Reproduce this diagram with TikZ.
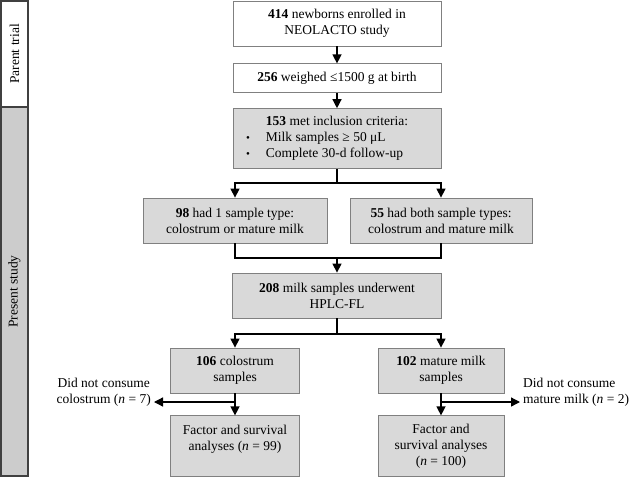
\documentclass[tikz,border=0pt]{standalone}
\usepackage{fontspec}
\setmainfont{Liberation Serif}
\usetikzlibrary{positioning, arrows.meta}

\tikzset{
    box/.style={draw=black!50, line width=0.8pt, align=center, inner sep=2pt, minimum height=45pt, font=\fontsize{13.5}{16}\selectfont},
    graybox/.style={box, fill=black!15},
    sidebar/.style={draw=black!75, line width=2.2pt, minimum height=27pt, rotate=90, font=\fontsize{13.5}{16}\selectfont},
    note/.style={align=center, inner sep=3pt, font=\fontsize{13.5}{16}\selectfont},
    arr/.style={line width=1.3pt, -{Triangle[width=9pt,length=9pt]}},
    ln/.style={line width=1.3pt}
}
\newcommand{\bul}{\llap{\raisebox{0.8pt}{\fontsize{11}{11}\selectfont •}\hspace{16pt}}}

\begin{document}
\begin{tikzpicture}[x=1pt, y=1pt, node distance=15pt]
    \useasboundingbox (0,0) rectangle (640,-477);

    % side bar
    \node[sidebar, fill=white, minimum width=106pt] (parent) at (14.5,-54) {Parent trial};
    \node[sidebar, fill=black!20, minimum width=369pt] (present) at (14.5,-291.5) {Present study};

    % main column
    \node[box, minimum width=208pt] (enrol) at (337,-23.5) {\textbf{414} newborns enrolled in\\NEOLACTO study};
    \node[box, minimum width=208pt, minimum height=29pt, below=17pt of enrol] (vlbw) {\textbf{256} weighed ≤1500 g at birth};
    \node[graybox, minimum width=208pt, minimum height=60pt, below=15pt of vlbw, align=left] (incl) {\textbf{153} met inclusion criteria:\\
        \bul Milk samples ≥ 50 μL\\
        \bul Complete 30-d follow-up};
    \coordinate (split1) at (337,-183);

    \node[graybox, minimum width=184pt] (one) at (235,-220.5) {\textbf{98} had 1 sample type:\\colostrum or mature milk};
    \node[graybox, minimum width=182pt] (both) at (441,-220.5) {\textbf{55} had both sample types:\\colostrum and mature milk};
    \coordinate (join1) at (337,-258);

    \node[graybox, minimum width=209pt] (hplc) at (337,-295.5) {\textbf{208} milk samples underwent\\HPLC-FL};
    \coordinate (split2) at (337,-334);

    \node[graybox, minimum width=129pt] (colo) at (235,-370.5) {\textbf{106} colostrum\\samples};
    \node[graybox, minimum width=126pt] (mature) at (441,-370.5) {\textbf{102} mature milk\\samples};
    \node[graybox, minimum width=129pt, minimum height=61pt, below=22pt of colo] (fac1) {Factor and survival\\analyses (\textit{n} = 99)\\\mbox{}};
    \node[graybox, minimum width=126pt, minimum height=61pt, below=22pt of mature] (fac2) {Factor and\\survival analyses\\(\textit{n} = 100)};

    % exclusions
    \node[note, anchor=east] (nocolo) at (154,-392.5) {Did not consume\\colostrum (\textit{n} = 7)};
    \node[note, anchor=west, align=left] (nomat) at (520,-392.5) {Did not consume\\mature milk (\textit{n} = 2)};
    \coordinate (drop1) at (235,-402);
    \coordinate (drop2) at (441,-402);

    \draw[arr] (enrol) -- (vlbw);
    \draw[arr] (vlbw) -- (incl);
    \draw[ln] (incl) -- (split1);
    \draw[arr] (split1) -| (one);
    \draw[arr] (split1) -| (both);
    \draw[ln] (one) |- (join1);
    \draw[ln] (both) |- (join1);
    \draw[arr] (join1) -- (hplc);
    \draw[ln] (hplc) -- (split2);
    \draw[arr] (split2) -| (colo);
    \draw[arr] (split2) -| (mature);
    \draw[arr] (colo) -- (fac1);
    \draw[arr] (mature) -- (fac2);
    \draw[arr] (drop1) -- (drop1 -| nocolo.east);
    \draw[arr] (drop2) -- (drop2 -| nomat.west);
\end{tikzpicture}
\end{document}
